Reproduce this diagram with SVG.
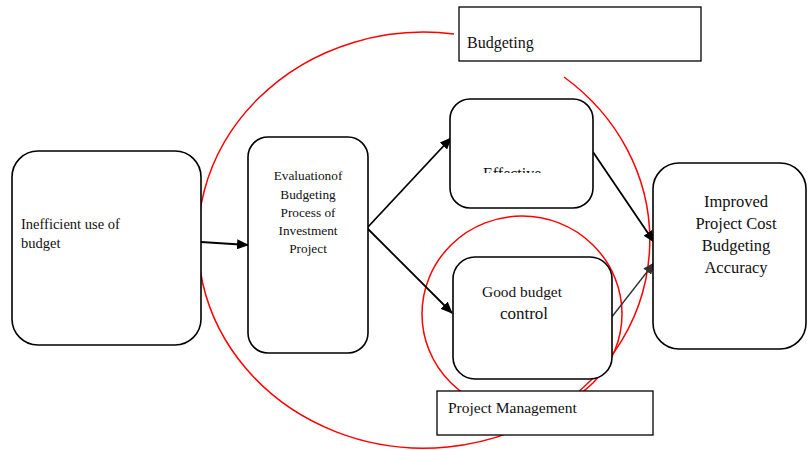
<svg xmlns="http://www.w3.org/2000/svg" width="808" height="450" viewBox="0 0 808 450">
  <style>
    .node { fill: #ffffff; stroke: #000000; stroke-width: 1.6; }
    .label { fill: #ffffff; stroke: #000000; stroke-width: 1.3; }
    .ring { fill: none; stroke: #ff0000; stroke-width: 1.5; }
    .edge { stroke: #000000; stroke-width: 1.8; fill: none; marker-end: url(#arrow); }
  </style>
  <defs>
    <marker id="arrow" viewBox="0 0 12 10" refX="11" refY="5" markerWidth="12" markerHeight="10" markerUnits="userSpaceOnUse" orient="auto">
      <path d="M0,0 L12,5 L0,10 Z" fill="#000000"/>
    </marker>
    <marker id="arrowGrey" viewBox="0 0 12 10" refX="11" refY="5" markerWidth="12" markerHeight="10" markerUnits="userSpaceOnUse" orient="auto">
      <path d="M0,0 L12,5 L0,10 Z" fill="#333333"/>
    </marker>
    <clipPath id="effClip">
      <rect x="452" y="100" width="140" height="73"/>
    </clipPath>
  </defs>

  <rect width="808" height="450" fill="#ffffff"/>

  <!-- scope rings -->
  <g id="rings">
    <path class="ring" d="M 564,77 A 226 208 0 1 1 454,34"/>
    <ellipse class="ring" cx="522" cy="314" rx="100" ry="98"/>
  </g>

  <!-- connectors -->
  <g id="connectors">
    <line class="edge" x1="201" y1="242" x2="248" y2="245"/>
    <line class="edge" x1="367" y1="228" x2="451" y2="138"/>
    <line class="edge" x1="367" y1="228" x2="452" y2="313"/>
    <line class="edge" x1="593" y1="152" x2="654" y2="242"/>
    <line x1="611" y1="318" x2="654" y2="263" stroke="#333333" stroke-width="1.4" marker-end="url(#arrowGrey)"/>
  </g>

  <g font-family="Liberation Serif, Times New Roman, DejaVu Serif, serif" fill="#111111">
    <g id="inefficient">
      <rect class="node" x="12" y="151" width="189" height="194" rx="26"/>
      <text font-size="14.5" x="21" y="229">Inefficient use of</text>
      <text font-size="14.5" x="21" y="248">budget</text>
    </g>

    <g id="evaluation">
      <rect class="node" x="248" y="137" width="120" height="216" rx="20"/>
      <g font-size="13.3" text-anchor="middle">
        <text x="308" y="180">Evaluationof</text>
        <text x="308" y="198.5">Budgeting</text>
        <text x="308" y="217">Process of</text>
        <text x="308" y="235">Investment</text>
        <text x="308" y="253">Project</text>
      </g>
    </g>

    <g id="effective">
      <rect class="node" x="450" y="99" width="143" height="109" rx="20"/>
      <text font-size="16" x="483" y="179" clip-path="url(#effClip)">Effective</text>
    </g>

    <g id="good-budget-control">
      <rect class="node" x="453" y="257" width="159" height="122" rx="22"/>
      <text font-size="15.4" x="522" y="297" text-anchor="middle">Good budget</text>
      <text font-size="17" x="524" y="319" text-anchor="middle">control</text>
    </g>

    <g id="improved">
      <rect class="node" x="653" y="163" width="153" height="186" rx="26"/>
      <g font-size="16.5" text-anchor="middle">
        <text x="736" y="207">Improved</text>
        <text x="736" y="229">Project Cost</text>
        <text x="736" y="251">Budgeting</text>
        <text x="736" y="273">Accuracy</text>
      </g>
    </g>

    <g id="budgeting">
      <rect class="label" x="459" y="7" width="242" height="54"/>
      <text font-size="16" x="467" y="48">Budgeting</text>
    </g>

    <g id="project-management">
      <rect class="label" x="437" y="391" width="216" height="44"/>
      <text font-size="15.5" x="448" y="413">Project Management</text>
    </g>
  </g>
</svg>
